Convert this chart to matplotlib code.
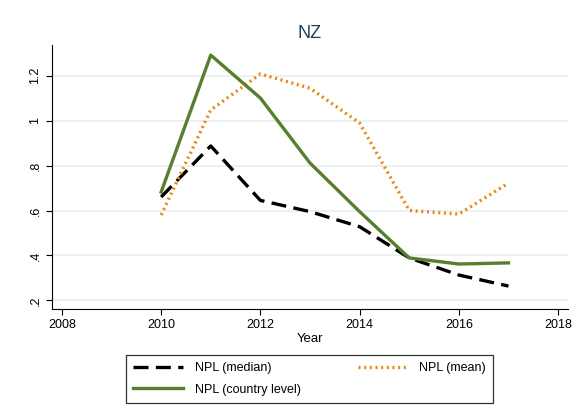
import matplotlib
matplotlib.use("Agg")
import matplotlib.pyplot as plt

plt.rcParams['font.family'] = ['Liberation Sans', 'DejaVu Sans']

years = [2010, 2011, 2012, 2013, 2014, 2015, 2016, 2017]
npl_median = [0.66, 0.887, 0.645, 0.595, 0.528, 0.389, 0.313, 0.264]
npl_mean = [0.58, 1.047, 1.207, 1.144, 0.989, 0.60, 0.584, 0.722]
npl_country = [0.682, 1.291, 1.10, 0.811, 0.595, 0.389, 0.362, 0.367]

xticks = [2008, 2010, 2012, 2014, 2016, 2018]
yticks = [0.2, 0.4, 0.6, 0.8, 1.0, 1.2]
ylabels = ['.2', '.4', '.6', '.8', '1', '1.2']

fig = plt.figure(figsize=(5.82, 4.09), dpi=100)
ax = fig.add_axes([0.0893, 0.2445, 0.8867, 0.6455])

# gridlines
for v in yticks:
    ax.axhline(v, color='#e6eff0', lw=1.2, zorder=0)

ax.plot(years, npl_median, color='black', lw=2.4, dashes=(4.5, 2.2), label='NPL (median)')
ax.plot(years, npl_mean, color='#e8860f', lw=2.4, linestyle=(0, (0.6, 1.1)), label='NPL (mean)')
ax.plot(years, npl_country, color='#587f2e', lw=2.4, label='NPL (country level)')

ax.set_xlim(2007.8, 2018.2)
ax.set_ylim(0.162, 1.336)
ax.set_xticks(xticks)
ax.set_yticks(yticks)
ax.set_yticklabels(ylabels, rotation=90, va='center')
ax.tick_params(labelsize=9, length=4, colors='black')
ax.spines['top'].set_visible(False)
ax.spines['right'].set_visible(False)
ax.set_xlabel('Year', fontsize=9.5, labelpad=1)
ax.set_title('NZ', fontsize=13, color='#1f3f5f', pad=5)

h, l = ax.get_legend_handles_labels()
leg = fig.legend([h[0], h[2], h[1]], [l[0], l[2], l[1]], ncol=2, loc='center',
                 bbox_to_anchor=(0.532, 0.0733), fontsize=9, frameon=True,
                 fancybox=False, edgecolor='black', handlelength=4.0,
                 handletextpad=0.9, columnspacing=4.6, borderpad=0.55,
                 labelspacing=0.75, borderaxespad=0)
leg.get_frame().set_linewidth(0.9)

fig.savefig('out.png', dpi=100)
